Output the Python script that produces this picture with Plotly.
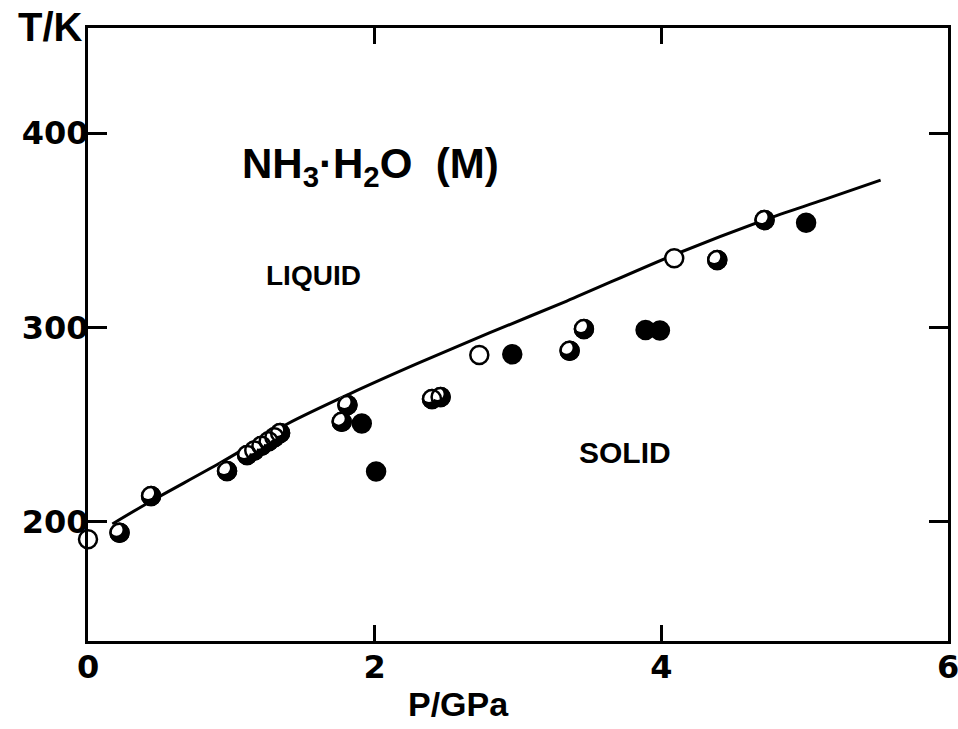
import plotly.graph_objects as go

# ---------------- data ----------------
# melting curve of NH3.H2O (M)
curve_P = [0.17, 0.43, 0.92, 1.39, 1.83, 2.30, 2.80, 3.34, 4.09, 4.72, 5.13, 5.53]
curve_T = [199.0, 210.3, 230.3, 250.4, 266.0, 281.5, 297.2, 313.6, 337.4, 355.3, 365.6, 375.8]

# open circles
open_P = [0.00, 2.73, 4.09]
open_T = [191.1, 285.9, 335.6]

# half-filled circles
half_P = [0.22, 0.44, 0.97, 1.11, 1.16, 1.21, 1.26, 1.30, 1.34, 1.77, 1.81,
          2.40, 2.46, 3.36, 3.46, 4.39, 4.72]
half_T = [194.5, 213.4, 226.2, 234.4, 236.8, 239.2, 241.5, 243.6, 245.8, 251.6, 260.2,
          263.2, 264.3, 288.1, 299.2, 334.7, 355.3]

# filled circles
full_P = [1.91, 2.01, 2.96, 3.89, 3.99, 5.01]
full_T = [250.7, 226.0, 286.2, 298.7, 298.5, 353.9]

x_ticks = [0, 2, 4, 6]
y_ticks = [200, 300, 400]
x_range = [0, 6]
y_range = [138.8, 454.0]

# ---------------- layout geometry / style ----------------
W, H = 958, 729
ML, MR, MT, MB = 88, 10, 28, 88
PW, PH = W - ML - MR, H - MT - MB
HL_PX = 3  # highlight offset (pixels) for half-filled symbols
dx = HL_PX * (x_range[1] - x_range[0]) / PW
dy = HL_PX * (y_range[1] - y_range[0]) / PH

MS = 18
MLW = 2.5

fig = go.Figure()

fig.add_trace(go.Scatter(x=curve_P, y=curve_T, mode="lines",
                         line=dict(color="black", width=3, shape="spline", smoothing=0.8),
                         cliponaxis=False, hoverinfo="skip"))

fig.add_trace(go.Scatter(x=open_P, y=open_T, mode="markers",
                         marker=dict(symbol="circle", size=MS, color="white",
                                     line=dict(color="black", width=MLW)),
                         cliponaxis=False))

fig.add_trace(go.Scatter(x=half_P, y=half_T, mode="markers",
                         marker=dict(symbol="circle", size=MS, color="black",
                                     line=dict(color="black", width=MLW)),
                         cliponaxis=False))

fig.add_trace(go.Scatter(x=full_P, y=full_T, mode="markers",
                         marker=dict(symbol="circle", size=MS, color="black",
                                     line=dict(color="black", width=MLW)),
                         cliponaxis=False))

# white highlight of the half-filled symbols (drawn on shifted overlay axes)
fig.add_trace(go.Scatter(x=half_P, y=half_T, mode="markers", xaxis="x2", yaxis="y2",
                         marker=dict(symbol="circle", size=12, color="white",
                                     line=dict(width=0)),
                         cliponaxis=False))
# redraw outlines of half-filled symbols
fig.add_trace(go.Scatter(x=half_P, y=half_T, mode="markers", xaxis="x3", yaxis="y3",
                         marker=dict(symbol="circle-open", size=MS, color="black",
                                     line=dict(color="black", width=MLW)),
                         cliponaxis=False))

tickfont = dict(family="DejaVu Sans", size=32, color="black", weight="bold")
lab = dict(family="Liberation Sans", color="black", weight="bold")

fig.update_layout(
    width=W, height=H, showlegend=False,
    margin=dict(l=ML, r=MR, t=MT, b=MB, pad=0, autoexpand=False),
    paper_bgcolor="white", plot_bgcolor="white",
    xaxis=dict(range=x_range, tickvals=x_ticks, ticks="inside", ticklen=16, tickwidth=2.5,
               tickcolor="black", showline=True, linewidth=3, linecolor="black",
               mirror="ticks", showgrid=False, zeroline=False, tickfont=tickfont,
               ticklabelstandoff=-4, automargin=False, ticklabeloverflow="allow"),
    yaxis=dict(range=y_range, tickvals=y_ticks, ticks="inside", ticklen=19, tickwidth=2.5,
               tickcolor="black", showline=True, linewidth=3, linecolor="black",
               mirror="ticks", showgrid=False, zeroline=False, tickfont=tickfont,
               ticklabelstandoff=-10, automargin=False, ticklabeloverflow="allow"),
    xaxis2=dict(range=[x_range[0] + dx, x_range[1] + dx], overlaying="x", anchor="y2",
                visible=False, automargin=False),
    yaxis2=dict(range=[y_range[0] - dy, y_range[1] - dy], overlaying="y", anchor="x2",
                visible=False, automargin=False),
    xaxis3=dict(range=x_range, overlaying="x", anchor="y3", visible=False, automargin=False),
    yaxis3=dict(range=y_range, overlaying="y", anchor="x3", visible=False, automargin=False),
    annotations=[
        dict(text="T/K", xref="paper", yref="paper", x=(50.5 - ML) / PW,
             y=(H - MB - 27.5) / PH, xanchor="center", yanchor="middle",
             showarrow=False, font=dict(size=40, **lab)),
        dict(text="P/GPa", xref="paper", yref="paper", x=(458 - ML) / PW,
             y=(H - MB - 704) / PH, xanchor="center", yanchor="middle",
             showarrow=False, font=dict(size=34, **lab)),
        dict(text="NH<sub>3</sub>·H<sub>2</sub>O&nbsp;&nbsp;(M)", xref="paper",
             yref="paper", x=(240 - ML) / PW, y=(H - MB - 166) / PH,
             xanchor="left", yanchor="middle", showarrow=False, font=dict(size=42, **lab)),
        dict(text="LIQUID", xref="paper", yref="paper", x=(313.5 - ML) / PW,
             y=(H - MB - 275) / PH, xanchor="center", yanchor="middle",
             showarrow=False, font=dict(size=28, **lab)),
        dict(text="SOLID", xref="paper", yref="paper", x=(624.5 - ML) / PW,
             y=(H - MB - 452) / PH, xanchor="center", yanchor="middle",
             showarrow=False, font=dict(size=30, **lab)),
    ],
)

fig.write_html(
    "out.html",
    config={"displayModeBar": False},
    post_script="document.body.style.margin='0';document.body.style.overflow='hidden';",
)
